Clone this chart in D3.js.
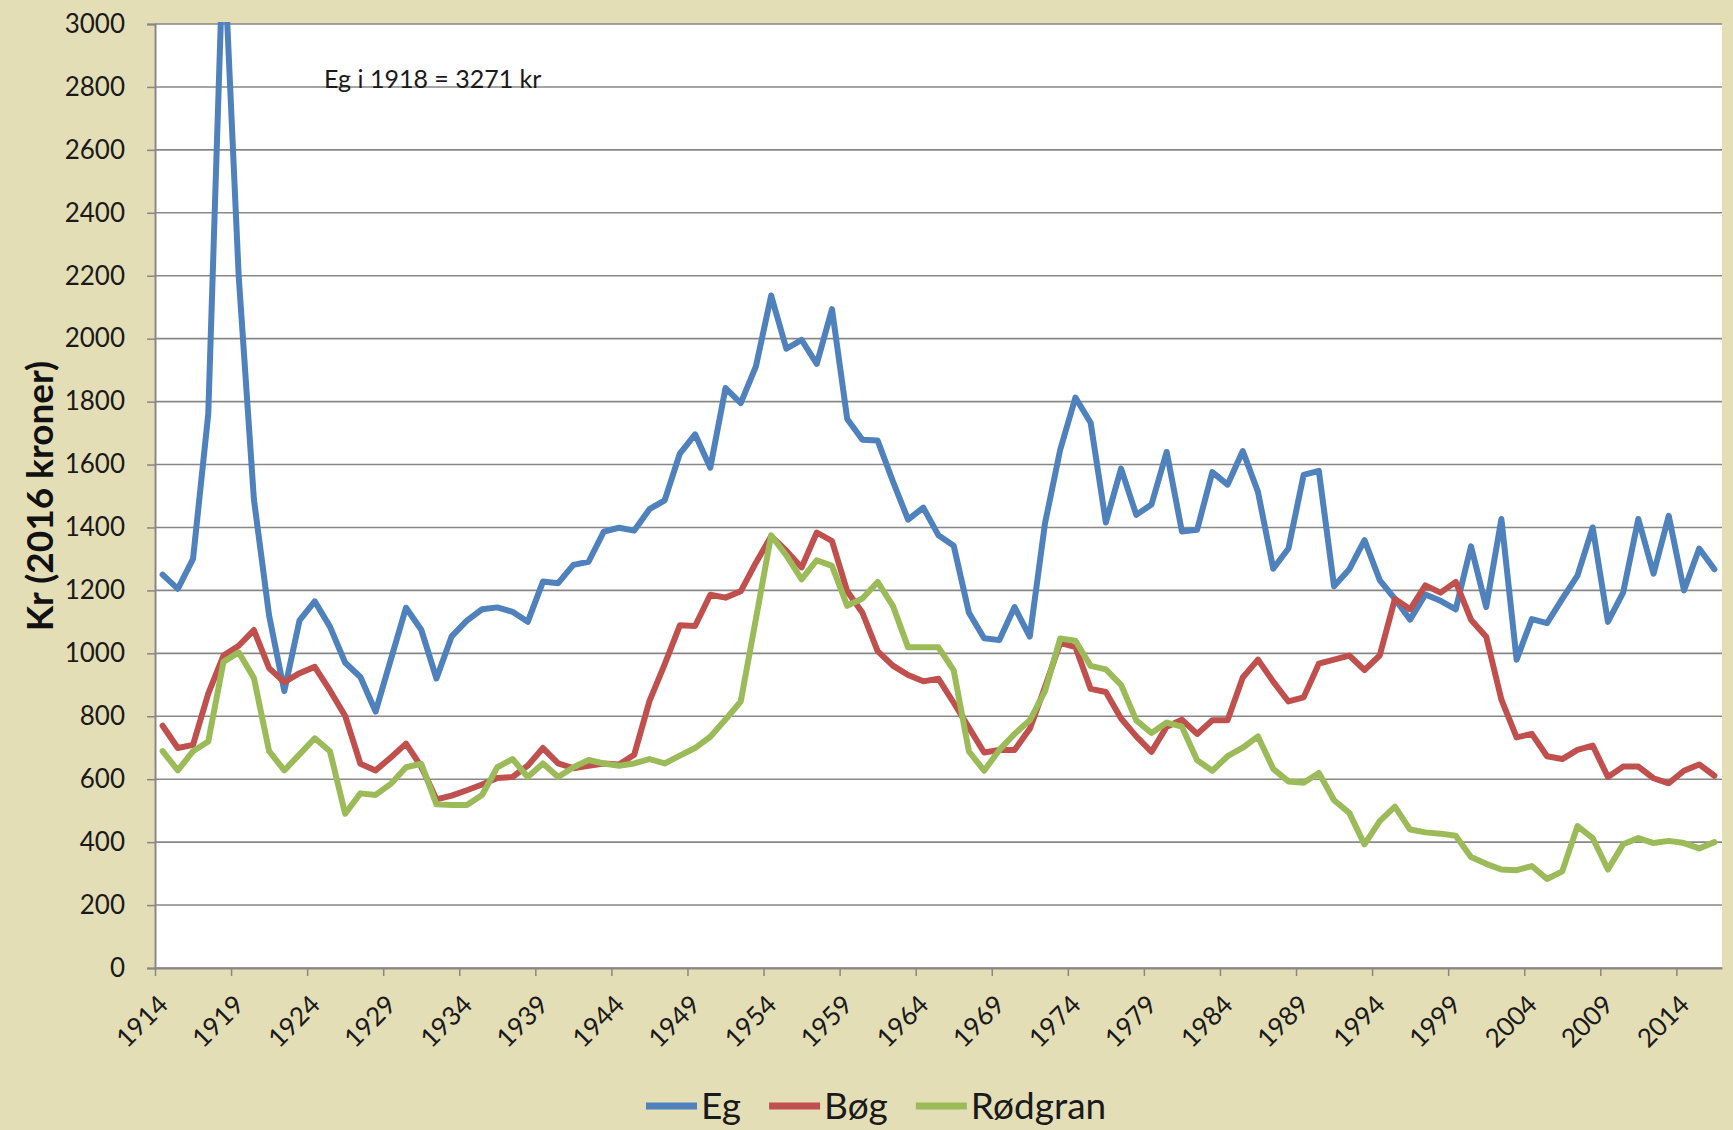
<!DOCTYPE html>
<html>
<head>
<meta charset="utf-8">
<script src="https://cdn.jsdelivr.net/npm/d3@7/dist/d3.min.js"></script>
<style>
  body { margin: 0; background: #e4deb7; }
  svg { display: block; }
</style>
</head>
<body>
<svg id="chart" width="1733" height="1130"></svg>
<script>
// Prices per m3 for Eg, Bøg and Rødgran, 1914-2016 (2016 kroner)

var firstYear = 1914,
  lastYear = 2016,
  years = d3.range(firstYear, lastYear + 1),
  labelYears = years.filter(function(d) { return (d - firstYear) % 5 === 0; }),
  yTicks = [0, 200, 400, 600, 800, 1000, 1200, 1400, 1600, 1800, 2000, 2200, 2400, 2600, 2800, 3000];

var egValues = [
  1250, 1205, 1300, 1760, 3271, 2200, 1490, 1120, 880, 1105,
  1165, 1085, 970, 925, 815, 980, 1145, 1075, 920, 1054,
  1104, 1140, 1146, 1132, 1100, 1228, 1223, 1281, 1291, 1387,
  1399, 1390, 1458, 1486, 1635, 1696, 1590, 1843, 1795, 1912,
  2137, 1968, 1996, 1920, 2094, 1745, 1679, 1676, 1547, 1425,
  1463, 1375, 1342, 1129, 1048, 1042, 1147, 1053, 1413, 1647,
  1813, 1733, 1416, 1587, 1440, 1473, 1640, 1387, 1393, 1576,
  1536, 1643, 1513, 1269, 1333, 1567, 1580, 1213, 1267, 1360,
  1233, 1173, 1107, 1187, 1167, 1140, 1340, 1147, 1427, 980,
  1109, 1096, 1173, 1247, 1400, 1100, 1193, 1427, 1253, 1437,
  1200, 1333, 1267
];

var bogValues = [
  770, 699, 709, 872, 993, 1024, 1074, 953, 908, 937,
  957, 882, 801, 649, 628, 669, 713, 640, 536, 548,
  565, 583, 604, 607, 643, 699, 650, 635, 643, 650,
  647, 678, 848, 965, 1089, 1087, 1186, 1177, 1197, 1288,
  1372, 1326, 1273, 1384, 1357, 1197, 1129, 1007, 961, 931,
  911, 919, 843, 764, 685, 693, 693, 760, 893, 1033,
  1020, 887, 877, 793, 736, 687, 767, 789, 744, 787,
  787, 923, 980, 910, 847, 860, 967, 980, 993, 947,
  993, 1173, 1140, 1216, 1193, 1227, 1107, 1053, 853, 733,
  744, 673, 664, 693, 707, 607, 640, 640, 603, 587,
  627, 647, 611
];

var rodgranValues = [
  689, 628, 689, 720, 973, 1003, 922, 689, 628, 679,
  730, 689, 490, 555, 550, 585, 638, 649, 520, 518,
  518, 550, 638, 664, 607, 650, 607, 638, 661, 650,
  643, 650, 664, 650, 675, 699, 735, 790, 847, 1110,
  1375, 1311, 1235, 1296, 1278, 1151, 1174, 1227, 1151, 1019,
  1019, 1019, 946, 688, 627, 693, 744, 787, 880, 1047,
  1040, 960, 949, 900, 787, 747, 780, 767, 660, 627,
  673, 700, 736, 633, 593, 589, 620, 533, 493, 393,
  467, 513, 440, 431, 427, 420, 353, 331, 313, 311,
  324, 283, 307, 451, 413, 313, 393, 413, 397, 404,
  397, 380, 400
];

var seriesNames = ['Eg', 'Bøg', 'Rødgran'],
  seriesColors = ['#4f81bd', '#c0504d', '#9bbb59'],
  seriesValues = [egValues, bogValues, rodgranValues];

var PLOT_LEFT = 155,
  PLOT_RIGHT = 1722,
  PLOT_TOP = 24,
  PLOT_BOTTOM = 968,
  FONT = 'Lato, "Open Sans", sans-serif',
  GRID_COLOR = '#878787';

var svg = d3.select('#chart');

// between-tick categories: each year gets one slot, the point sits in its middle
var x = d3.scaleLinear()
  .domain([firstYear - 0.5, lastYear + 0.5])
  .range([PLOT_LEFT, PLOT_RIGHT]);

var y = d3.scaleLinear()
  .domain([0, 3000])
  .range([PLOT_BOTTOM, PLOT_TOP]);

// background + plot area
svg.append('rect')
  .attr('width', 1733)
  .attr('height', 1130)
  .attr('fill', '#e4deb7');

svg.append('rect')
  .attr('x', PLOT_LEFT)
  .attr('y', PLOT_TOP)
  .attr('width', PLOT_RIGHT - PLOT_LEFT)
  .attr('height', PLOT_BOTTOM - PLOT_TOP)
  .attr('fill', 'white');

// gridlines
svg.append('g')
  .attr('class', 'grid')
  .selectAll('line')
  .data(yTicks)
  .enter()
  .append('line')
    .attr('x1', PLOT_LEFT)
    .attr('x2', PLOT_RIGHT)
    .attr('y1', function(d) { return y(d); })
    .attr('y2', function(d) { return y(d); })
    .attr('stroke', GRID_COLOR)
    .attr('stroke-width', 1.6);

// y axis
var yAxis = svg.append('g')
  .attr('transform', 'translate(' + PLOT_LEFT + ',0)')
  .call(d3.axisLeft(y)
    .tickValues(yTicks)
    .tickSize(8)
    .tickPadding(22)
    .tickFormat(d3.format('d')));

yAxis.select('.domain').attr('stroke', GRID_COLOR).attr('stroke-width', 2);
yAxis.selectAll('.tick line').attr('stroke', GRID_COLOR).attr('stroke-width', 1.5);
yAxis.selectAll('.tick text')
  .style('font-family', FONT)
  .style('font-size', '26px')
  .attr('fill', '#1a1a1a');

// x axis: ticks on category boundaries every 5 years
var xAxis = svg.append('g')
  .attr('transform', 'translate(0,' + PLOT_BOTTOM + ')')
  .call(d3.axisBottom(x)
    .tickValues(labelYears.map(function(d) { return d - 0.5; }))
    .tickSize(8)
    .tickSizeOuter(0)
    .tickFormat(function(d) { return d + 0.5; }));

xAxis.select('.domain').attr('stroke', GRID_COLOR).attr('stroke-width', 2);
xAxis.selectAll('.tick line').attr('stroke', GRID_COLOR).attr('stroke-width', 1.5);
xAxis.selectAll('.tick text')
  .style('font-family', FONT)
  .style('font-size', '26px')
  .attr('fill', '#1a1a1a')
  .attr('y', 0)
  .attr('dy', '0.35em')
  .style('text-anchor', 'end')
  .attr('transform', 'translate(' + (x(firstYear) - x(firstYear - 0.5)) + ',32) rotate(-45)');

// y axis title
svg.append('text')
  .attr('transform', 'translate(40,' + ((PLOT_TOP + PLOT_BOTTOM) / 2) + ') rotate(-90)')
  .style('font-family', FONT)
  .style('font-size', '37px')
  .style('font-weight', 700)
  .style('text-anchor', 'middle')
  .attr('dy', '0.35em')
  .attr('fill', '#111')
  .text('Kr (2016 kroner)');

// lines, clipped to the plot (Eg 1918 goes past the top)
svg.append('clipPath')
  .attr('id', 'plotClip')
  .append('rect')
    .attr('x', PLOT_LEFT)
    .attr('y', PLOT_TOP - 2)
    .attr('width', PLOT_RIGHT - PLOT_LEFT + 4)
    .attr('height', PLOT_BOTTOM - PLOT_TOP + 4);

var line = d3.line()
  .x(function(d, i) { return x(years[i]); })
  .y(function(d) { return y(d); });

svg.append('g')
  .attr('clip-path', 'url(#plotClip)')
  .selectAll('path')
  .data(seriesValues)
  .enter()
  .append('path')
    .attr('d', line)
    .attr('fill', 'none')
    .attr('stroke', function(d, i) { return seriesColors[i]; })
    .attr('stroke-width', 6)
    .attr('stroke-linejoin', 'round')
    .attr('stroke-linecap', 'round');

// annotation
svg.append('text')
  .attr('x', 324)
  .attr('y', y(2800) + 1)
  .style('font-family', FONT)
  .style('font-size', '25px')
  .attr('fill', '#1a1a1a')
  .text('Eg i 1918 = 3271 kr');

// legend
var LEGEND_Y = 1106,
  LEGEND_LINE = 51,
  legendX = 646;

var legend = svg.append('g').attr('class', 'legend');

seriesNames.forEach(function(name, i) {
  legend.append('line')
    .attr('x1', legendX)
    .attr('x2', legendX + LEGEND_LINE)
    .attr('y1', LEGEND_Y)
    .attr('y2', LEGEND_Y)
    .attr('stroke', seriesColors[i])
    .attr('stroke-width', 7);

  var label = legend.append('text')
    .attr('x', legendX + LEGEND_LINE + 4)
    .attr('y', LEGEND_Y)
    .attr('dy', '0.36em')
    .style('font-family', FONT)
    .style('font-size', '37px')
    .attr('fill', '#1a1a1a')
    .text(name);

  legendX += LEGEND_LINE + 4 + label.node().getComputedTextLength() + 28;
});
</script>
</body>
</html>
